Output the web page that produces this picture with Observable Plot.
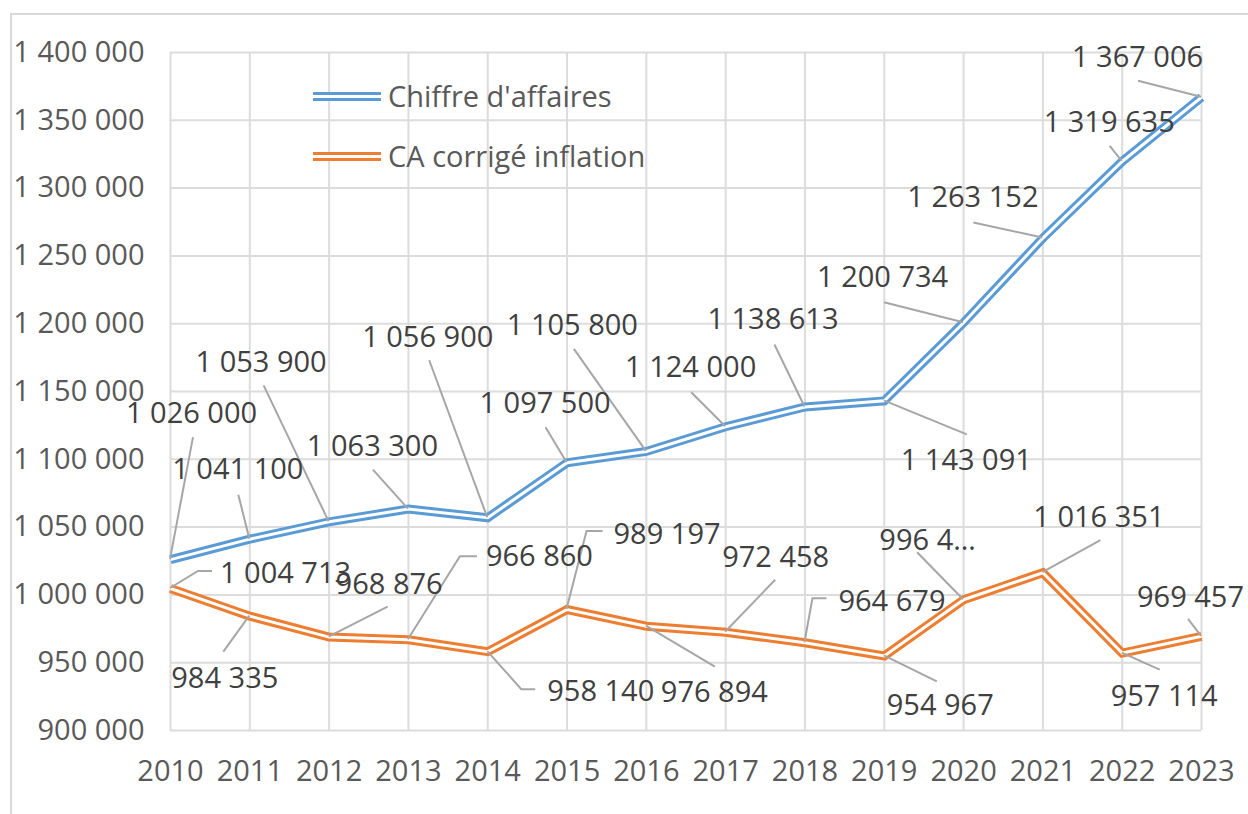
<!DOCTYPE html>
<html><head><meta charset="utf-8">
<script src="https://cdn.jsdelivr.net/npm/d3@7"></script>
<script src="https://cdn.jsdelivr.net/npm/@observablehq/plot@0.6"></script>
<style>
body{margin:0;background:#fff;font-family:"Open Sans",sans-serif;}
#wrap{position:relative;width:1248px;height:814px;overflow:hidden;background:#fff;}
#frame{position:absolute;left:10px;top:13px;width:1300px;height:900px;border:2px solid #d9d9d9;box-sizing:border-box;pointer-events:none;}
.leg{position:absolute;left:313px;display:flex;align-items:center;font-size:29px;line-height:40px;color:#595959;white-space:nowrap;}
.sw{width:68px;height:3px;border-top:3px solid;border-bottom:3px solid;background:#fff;margin-right:7px;}
</style></head>
<body>
<div id="wrap">
  <div id="chart"></div>
  <div id="frame"></div>
  <div class="leg" style="top:76px"><div class="sw" style="border-color:#5B9BD5"></div><span>Chiffre d'affaires</span></div>
  <div class="leg" style="top:136px"><div class="sw" style="border-color:#ED7D31"></div><span>CA corrigé inflation</span></div>
</div>
<script>
// ---- data ----
const years = [2010, 2011, 2012, 2013, 2014, 2015, 2016, 2017, 2018, 2019, 2020, 2021, 2022, 2023];
const chiffreAffaires = [1026000, 1041100, 1053900, 1063300, 1056900, 1097500, 1105800, 1124000, 1138613, 1143091, 1200734, 1263152, 1319635, 1367006];
const caCorrigeInflation = [1004713, 984335, 968876, 966860, 958140, 989197, 976894, 972458, 964679, 954967, 996450, 1016351, 957114, 969457];
const yTicks = [900000, 950000, 1000000, 1050000, 1100000, 1150000, 1200000, 1250000, 1300000, 1350000, 1400000];
const seriesNames = ["Chiffre d'affaires", "CA corrigé inflation"];
const truncatedLabelYears = [2020]; // CA corrigé label shown truncated ("996 4…")

// ---- layout (pixel offsets of data labels and leader lines, relative to the point) ----
const blueLabelOffsets = [[21,-146],[-12,-69],[-68,-159],[-36,-62],[-60,-180],[-22,-59],[-74,-126],[-35,-59],[-32,-87],[82,60],[-81,-45],[-70,-40],[-13,-39],[-64,-40]];
const blueLeaderPaths = [[[23,-122]],[[-11,-44]],[[-65,-136]],[[-35,-39]],[[-58,-157]],[[-21,-35]],[[-72,-102]],[[-34,-34]],[[-30,-62]],[[83,34]],[[-79,-20]],[[-69,-15]],[[-12,-15]],[[-63,-16]]];
const orangeLabelOffsets = [[115,-15],[-25,63],[60,-52],[131,-83],[113,40],[100,-75],[68,66],[50,-75],[87,-41],[56,50],[-36,-59],[56,-55],[42,44],[-11,-39]];
const orangeLeaderPaths = [[[28,-17],[42,-17]],[[-26,36]],[[59,-30]],[[52,-83],[69,-83]],[[34,38],[48,38]],[[20,-78],[36,-78]],[[69,41]],[[50,-52]],[[8,-44],[22,-44]],[[53,26]],[[-46,-47]],[[58,-32]],[[38,17]],[[-13,-17]]];

const BLUE = "#5B9BD5", ORANGE = "#ED7D31";
const fmt = v => d3.format(",")(v).replace(/,/g, " ");

const blueData = years.map((year, i) => ({year, value: chiffreAffaires[i], label: fmt(chiffreAffaires[i])}));
const orangeData = years.map((year, i) => {
  const s = fmt(caCorrigeInflation[i]);
  return {year, value: caCorrigeInflation[i], label: truncatedLabelYears.includes(year) ? s.slice(0, 5) + "…" : s};
});

function doubleLine(data, color) {
  return [
    Plot.line(data, {x: "year", y: "value", stroke: color, strokeWidth: 9, strokeLinejoin: "miter", strokeMiterlimit: 3, strokeLinecap: "butt"}),
    Plot.line(data, {x: "year", y: "value", stroke: "white", strokeWidth: 3, strokeLinejoin: "miter", strokeMiterlimit: 3, strokeLinecap: "butt"})
  ];
}

function leaders(data, paths) {
  return (index, scales) => {
    const g = d3.create("svg:g");
    data.forEach((d, i) => {
      const px = scales.x(d.year), py = scales.y(d.value);
      const pts = [[px, py], ...paths[i].map(([dx, dy]) => [px + dx, py + dy])];
      g.append("path").attr("d", d3.line()(pts)).attr("fill", "none")
        .attr("stroke", "#a6a6a6").attr("stroke-width", 2);
    });
    return g.node();
  };
}

function labels(data, offsets) {
  return data.map((d, i) => Plot.text([d], {
    x: "year", y: "value", text: "label",
    dx: offsets[i][0], dy: offsets[i][1],
    fontSize: 29, fill: "#404040", fontFamily: "'Open Sans', sans-serif"
  }));
}

const chart = Plot.plot({
  width: 1248, height: 814,
  marginLeft: 170, marginRight: 47, marginTop: 52, marginBottom: 84,
  style: {fontFamily: "'Open Sans', sans-serif", fontSize: "29px", color: "#595959", background: "transparent", overflow: "visible"},
  x: {type: "linear", domain: [2010, 2023], ticks: years, tickFormat: d => String(d), tickSize: 0, tickPadding: 30, label: null},
  y: {domain: [900000, 1400000], ticks: yTicks, tickFormat: fmt, tickSize: 0, tickPadding: 26, label: null},
  marks: [
    Plot.ruleX(years, {stroke: "#dcdcdc", strokeWidth: 2}),
    Plot.ruleY(yTicks, {stroke: "#dcdcdc", strokeWidth: 2}),
    ...doubleLine(blueData, BLUE),
    ...doubleLine(orangeData, ORANGE),
    leaders(blueData, blueLeaderPaths),
    leaders(orangeData, orangeLeaderPaths),
    ...labels(blueData, blueLabelOffsets),
    ...labels(orangeData, orangeLabelOffsets)
  ]
});
document.getElementById("chart").appendChild(chart);
</script>
</body></html>
